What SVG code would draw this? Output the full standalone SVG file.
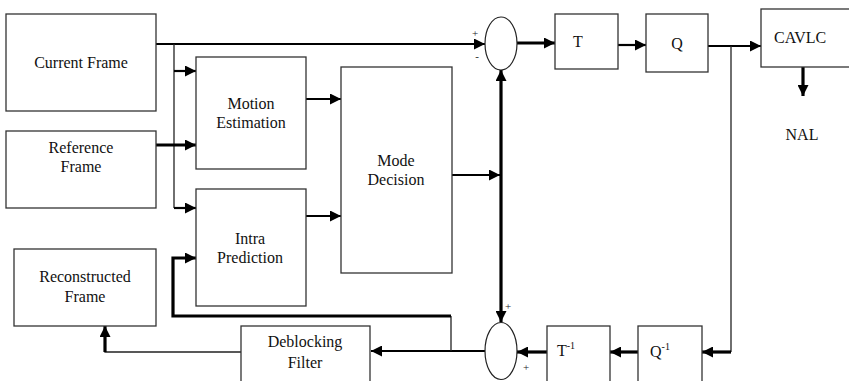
<svg xmlns="http://www.w3.org/2000/svg" width="849" height="381" viewBox="0 0 849 381">
  <defs>
    <style>
      .box { fill: #fff; stroke: #333; stroke-width: 1.3; }
      .sum { fill: #fff; stroke: #222; stroke-width: 1.2; }
      .lbl { font-family: "Liberation Serif", "Times New Roman", serif; font-size: 16px; fill: #111; text-anchor: middle; }
      .sign { font-family: "Liberation Serif", "Times New Roman", serif; font-size: 11px; fill: #222; text-anchor: middle; }
      .w1 { fill: none; stroke: #222; stroke-width: 1.3; }
      .w2 { fill: none; stroke: #000; stroke-width: 2.2; }
      .w3 { fill: none; stroke: #000; stroke-width: 3.2; }
    </style>
    <marker id="arrow" markerUnits="userSpaceOnUse" markerWidth="11" markerHeight="11" refX="11" refY="5.5" orient="auto">
      <path d="M0,0 L11,5.5 L0,11 z" fill="#000"/>
    </marker>
  </defs>

  <rect width="849" height="381" fill="#fff"/>

  <!-- connectors -->
  <g id="connectors">
    <path class="w2" d="M156,44 H485" marker-end="url(#arrow)"/>
    <path class="w1" d="M174,44 V208"/>
    <path class="w2" d="M174,71 H196" marker-end="url(#arrow)"/>
    <path class="w2" d="M174,208 H196" marker-end="url(#arrow)"/>
    <path class="w3" d="M156,145 H196" marker-end="url(#arrow)"/>
    <path class="w2" d="M306,99 H341" marker-end="url(#arrow)"/>
    <path class="w2" d="M306,216 H341" marker-end="url(#arrow)"/>
    <path class="w2" d="M452,175 H500" marker-end="url(#arrow)"/>
    <path class="w3" d="M501,175 V70" marker-end="url(#arrow)"/>
    <path class="w3" d="M501,175 V322" marker-end="url(#arrow)"/>
    <path class="w3" d="M517,43 H555" marker-end="url(#arrow)"/>
    <path class="w2" d="M618,45 H646" marker-end="url(#arrow)"/>
    <path class="w2" d="M708,46 H761" marker-end="url(#arrow)"/>
    <path class="w1" d="M731,46 V352"/>
    <path class="w3" d="M731,352 H702" marker-end="url(#arrow)"/>
    <path class="w3" d="M803,67 V96" marker-end="url(#arrow)"/>
    <path class="w3" d="M638,352 H610" marker-end="url(#arrow)"/>
    <path class="w3" d="M547,352 H517" marker-end="url(#arrow)"/>
    <path class="w2" d="M485,351 H371" marker-end="url(#arrow)"/>
    <path class="w1" d="M451,351 V316"/>
    <path class="w3" d="M451,316 H173 V258 H196" marker-end="url(#arrow)"/>
    <path class="w1" d="M241,352 H105 V340"/>
    <path class="w3" d="M105,352 V326" marker-end="url(#arrow)"/>
  </g>

  <g id="current-frame">
    <rect class="box" x="6" y="14" width="150" height="97"/>
    <text class="lbl" x="81" y="68">Current Frame</text>
  </g>

  <g id="reference-frame">
    <rect class="box" x="6" y="131" width="150" height="77"/>
    <text class="lbl" x="81" y="153">Reference</text>
    <text class="lbl" x="81" y="172">Frame</text>
  </g>

  <g id="motion-estimation">
    <rect class="box" x="196" y="57" width="110" height="112"/>
    <text class="lbl" x="251" y="109">Motion</text>
    <text class="lbl" x="251" y="128">Estimation</text>
  </g>

  <g id="intra-prediction">
    <rect class="box" x="196" y="189" width="110" height="117"/>
    <text class="lbl" x="250" y="244">Intra</text>
    <text class="lbl" x="250" y="263">Prediction</text>
  </g>

  <g id="mode-decision">
    <rect class="box" x="341" y="67" width="111" height="206"/>
    <text class="lbl" x="396" y="166">Mode</text>
    <text class="lbl" x="396" y="185">Decision</text>
  </g>

  <g id="sum-upper">
    <ellipse class="sum" cx="501" cy="43.5" rx="16" ry="26.5"/>
    <text class="sign" x="475" y="37">+</text>
    <text class="sign" x="477" y="60">-</text>
  </g>

  <g id="transform">
    <rect class="box" x="555" y="14" width="63" height="55"/>
    <text class="lbl" x="578" y="47">T</text>
  </g>

  <g id="quantize">
    <rect class="box" x="646" y="14" width="62" height="58"/>
    <text class="lbl" x="677" y="49">Q</text>
  </g>

  <g id="cavlc">
    <rect class="box" x="761" y="9" width="95" height="58"/>
    <text class="lbl" x="774" y="43" style="text-anchor:start">CAVLC</text>
  </g>

  <g id="nal">
    <text class="lbl" x="802" y="140">NAL</text>
  </g>

  <g id="reconstructed-frame">
    <rect class="box" x="14" y="249" width="142" height="77"/>
    <text class="lbl" x="85" y="282">Reconstructed</text>
    <text class="lbl" x="85" y="302">Frame</text>
  </g>

  <g id="deblocking-filter">
    <rect class="box" x="241" y="326" width="129" height="60"/>
    <text class="lbl" x="305" y="347">Deblocking</text>
    <text class="lbl" x="305" y="368">Filter</text>
  </g>

  <g id="sum-lower">
    <ellipse class="sum" cx="501" cy="351" rx="16" ry="28.5"/>
    <text class="sign" x="508" y="310">+</text>
    <text class="sign" x="526" y="371">+</text>
  </g>

  <g id="inverse-transform">
    <rect class="box" x="547" y="326" width="63" height="60"/>
    <text class="lbl" x="557" y="356" style="text-anchor:start">T<tspan font-size="10" dy="-7">-1</tspan></text>
  </g>

  <g id="inverse-quantize">
    <rect class="box" x="638" y="326" width="64" height="60"/>
    <text class="lbl" x="650" y="357" style="text-anchor:start">Q<tspan font-size="10" dy="-7">-1</tspan></text>
  </g>
</svg>
